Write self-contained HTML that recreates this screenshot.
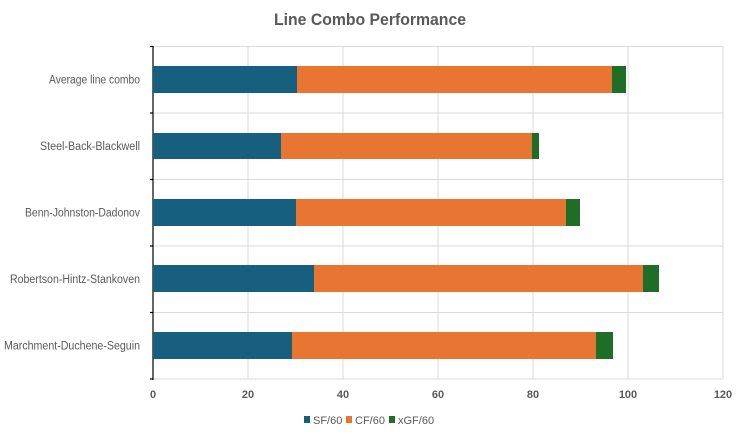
<!DOCTYPE html>
<html><head><meta charset="utf-8"><style>body{margin:0;background:#fff}</style></head><body>
<svg width="746" height="438" xmlns="http://www.w3.org/2000/svg" font-family="Liberation Sans, sans-serif">
<text x="370" y="25" text-anchor="middle" font-size="17" font-weight="bold" fill="#595959" textLength="192" lengthAdjust="spacingAndGlyphs">Line Combo Performance</text>
<g stroke="#d9d9d9" stroke-width="1">
<line x1="153" y1="46.5" x2="723" y2="46.5"/><line x1="153" y1="113" x2="723" y2="113"/><line x1="153" y1="179.5" x2="723" y2="179.5"/><line x1="153" y1="246" x2="723" y2="246"/><line x1="153" y1="312.5" x2="723" y2="312.5"/><line x1="153" y1="379" x2="723" y2="379"/>
<line x1="248" y1="46" x2="248" y2="379"/><line x1="343" y1="46" x2="343" y2="379"/><line x1="438" y1="46" x2="438" y2="379"/><line x1="533" y1="46" x2="533" y2="379"/><line x1="628" y1="46" x2="628" y2="379"/><line x1="723" y1="46" x2="723" y2="379"/>
</g>
<g stroke="#000" stroke-width="1.2">
<line x1="153" y1="46" x2="153" y2="380"/>
<line x1="150" y1="46.5" x2="153" y2="46.5"/><line x1="150" y1="113" x2="153" y2="113"/><line x1="150" y1="179.5" x2="153" y2="179.5"/><line x1="150" y1="246" x2="153" y2="246"/><line x1="150" y1="312.5" x2="153" y2="312.5"/><line x1="150" y1="379" x2="153" y2="379"/>
</g>
<g>
<rect x="153" y="66" width="144" height="27" fill="#175f7e"/><rect x="297" y="66" width="315" height="27" fill="#e87532"/><rect x="612" y="66" width="14" height="27" fill="#1e6e28"/>
<rect x="153" y="133" width="128" height="26" fill="#175f7e"/><rect x="281" y="133" width="251" height="26" fill="#e87532"/><rect x="532" y="133" width="7" height="26" fill="#1e6e28"/>
<rect x="153" y="199" width="143" height="27" fill="#175f7e"/><rect x="296" y="199" width="270" height="27" fill="#e87532"/><rect x="566" y="199" width="14" height="27" fill="#1e6e28"/>
<rect x="153" y="265" width="161" height="27" fill="#175f7e"/><rect x="314" y="265" width="329" height="27" fill="#e87532"/><rect x="643" y="265" width="16" height="27" fill="#1e6e28"/>
<rect x="153" y="332" width="139" height="27" fill="#175f7e"/><rect x="292" y="332" width="304" height="27" fill="#e87532"/><rect x="596" y="332" width="17" height="27" fill="#1e6e28"/>
</g>
<g font-size="11.5" fill="#595959" lengthAdjust="spacingAndGlyphs">
<text x="49" y="83.5" textLength="91" lengthAdjust="spacingAndGlyphs">Average line combo</text>
<text x="40" y="150" textLength="100" lengthAdjust="spacingAndGlyphs">Steel-Back-Blackwell</text>
<text x="25" y="216.5" textLength="115" lengthAdjust="spacingAndGlyphs">Benn-Johnston-Dadonov</text>
<text x="10" y="283" textLength="130" lengthAdjust="spacingAndGlyphs">Robertson-Hintz-Stankoven</text>
<text x="4" y="349.5" textLength="136" lengthAdjust="spacingAndGlyphs">Marchment-Duchene-Seguin</text>
</g>
<g font-size="11" font-weight="bold" fill="#595959" text-anchor="middle">
<text x="153" y="398">0</text><text x="248" y="398">20</text><text x="343" y="398">40</text><text x="438" y="398">60</text><text x="533" y="398">80</text><text x="628" y="398">100</text><text x="723" y="398">120</text>
</g>
<g font-size="11" fill="#595959">
<rect x="304" y="416" width="6" height="7" fill="#175f7e"/><text x="313" y="424">SF/60</text>
<rect x="346" y="416" width="6" height="7" fill="#e87532"/><text x="355" y="424">CF/60</text>
<rect x="389" y="416" width="6" height="7" fill="#1e6e28"/><text x="398" y="424">xGF/60</text>
</g>
</svg>
</body></html>
